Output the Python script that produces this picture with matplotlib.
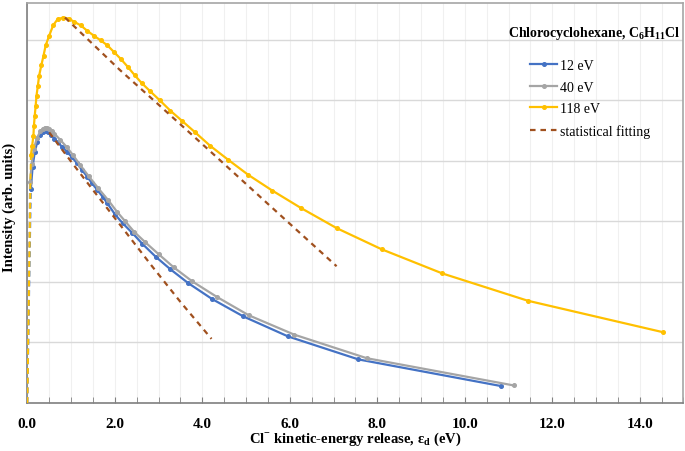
import matplotlib.pyplot as plt
from matplotlib.ticker import MultipleLocator, FuncFormatter
from matplotlib.lines import Line2D

plt.rcParams['font.family'] = ['Liberation Serif', 'DejaVu Serif']
plt.rcParams['mathtext.fontset'] = 'custom'
plt.rcParams['mathtext.rm'] = 'Liberation Serif'
plt.rcParams['mathtext.bf'] = 'Liberation Serif:bold'

# 12 eV
x12 = [0.0, 0.08, 0.12, 0.17, 0.23, 0.30, 0.36, 0.42, 0.48, 0.55, 0.62, 0.69, 0.80, 0.91,
       1.02, 1.14, 1.25, 1.37, 1.48, 1.60, 1.72, 1.83, 2.00, 2.18, 2.40, 2.63, 2.93, 3.27,
       3.68, 4.22, 4.94, 5.96, 7.57, 10.83]
y12 = [0.0, 3.53, 3.90, 4.15, 4.32, 4.43, 4.48, 4.50, 4.47, 4.43, 4.37, 4.31, 4.23, 4.15,
       4.06, 3.96, 3.85, 3.74, 3.63, 3.52, 3.41, 3.30, 3.12, 2.97, 2.81, 2.63, 2.42, 2.21,
       1.98, 1.72, 1.43, 1.10, 0.72, 0.28]

# 40 eV
x40 = [0.0, 0.06, 0.10, 0.15, 0.22, 0.30, 0.35, 0.40, 0.45, 0.50, 0.56, 0.62, 0.75, 0.90,
       1.05, 1.20, 1.40, 1.62, 1.85, 2.05, 2.24, 2.44, 2.69, 3.00, 3.35, 3.77, 4.34, 5.06,
       6.10, 7.76, 11.12]
y40 = [0.0, 3.65, 3.95, 4.20, 4.38, 4.49, 4.53, 4.55, 4.55, 4.53, 4.49, 4.45, 4.35, 4.23,
       4.09, 3.94, 3.75, 3.55, 3.35, 3.16, 3.00, 2.83, 2.66, 2.46, 2.24, 2.01, 1.75, 1.45,
       1.13, 0.74, 0.29]

# 118 eV
x118 = [0.0, 0.08, 0.11, 0.14, 0.15, 0.17, 0.19, 0.21, 0.24, 0.27, 0.32, 0.37, 0.42, 0.50,
        0.59, 0.69, 0.82, 0.95, 1.07, 1.22, 1.37, 1.52, 1.68, 1.83, 1.98, 2.13, 2.29, 2.45,
        2.61, 2.81, 3.03, 3.27, 3.54, 3.84, 4.18, 4.59, 5.05, 5.60, 6.26, 7.07, 8.10, 9.49,
        11.44, 14.53]
y118 = [0.0, 4.09, 4.25, 4.42, 4.58, 4.75, 4.91, 5.08, 5.24, 5.41, 5.58, 5.74, 5.91, 6.07,
        6.24, 6.34, 6.37, 6.35, 6.30, 6.24, 6.15, 6.07, 5.99, 5.91, 5.80, 5.69, 5.56, 5.42,
        5.29, 5.15, 5.00, 4.83, 4.66, 4.47, 4.25, 4.02, 3.77, 3.51, 3.22, 2.89, 2.54, 2.14,
        1.69, 1.17]

# statistical fits (decreasing part)
xfit12 = [0.50, 1.00, 1.50, 2.20, 2.84, 3.50, 4.21]
yfit12 = [4.47, 3.99, 3.52, 2.87, 2.27, 1.67, 1.06]
xfit118 = [0.86, 2.12, 3.00, 4.18, 5.50, 7.07]
yfit118 = [6.37, 5.50, 4.93, 4.16, 3.29, 2.26]

series = [('12 eV', x12, y12, '#4472C4'),
          ('40 eV', x40, y40, '#A5A5A5'),
          ('118 eV', x118, y118, '#FFC000')]
fit_color = '#A0501E'

fig = plt.figure(figsize=(6.85, 4.52), dpi=100)
ax = fig.add_axes([0.0399, 0.1062, 0.9579, 0.8850])

for label, xs, ys, c in series:
    # first segment from the origin looks dashed in the original
    ax.plot(xs[:2], ys[:2], color=c, lw=1.4, ls=(0, (3, 2)), zorder=3)
    ax.plot(xs[1:], ys[1:], color=c, lw=1.6, marker='o', ms=2.6, zorder=3)

ax.plot(xfit12, yfit12, color=fit_color, lw=1.6, ls=(0, (2.5, 2.2)), zorder=4)
ax.plot(xfit118, yfit118, color=fit_color, lw=1.6, ls=(0, (2.5, 2.2)), zorder=4)

ax.set_xlim(0, 15)
ax.set_ylim(0, 6.61)
ax.xaxis.set_major_locator(MultipleLocator(2))
ax.xaxis.set_minor_locator(MultipleLocator(0.5))
ax.xaxis.set_major_formatter(FuncFormatter(lambda v, p: '%.1f' % v))
ax.yaxis.set_major_locator(MultipleLocator(1))
ax.set_yticklabels([])
ax.tick_params(axis='y', length=0)
ax.tick_params(axis='x', which='both', direction='in', length=4, color='#808080',
               labelsize=11, pad=10)
for t in ax.get_xticklabels():
    t.set_fontweight('bold')

ax.grid(True, which='major', axis='y', color='#D9D9D9', lw=1.0)
ax.grid(True, which='both', axis='x', color='#F0F0F0', lw=0.8)
ax.set_axisbelow(True)

ax.spines['left'].set_color('#7F7F7F')
ax.spines['bottom'].set_color('#7F7F7F')
ax.spines['top'].set_color('#A6A6A6')
ax.spines['right'].set_color('#A6A6A6')
for s in ax.spines.values():
    s.set_linewidth(1.2)

fig.text(0.518, 0.027, 'Cl$^{\\mathbf{-}}$ kinetic-energy release, ε$_\\mathbf{d}$ (eV)',
         ha='center', va='center', fontsize=10.5, fontweight='bold')
fig.text(0.013, 0.54, 'Intensity (arb. units)', rotation=90, ha='center', va='center',
         fontsize=10.5, fontweight='bold')

fig.text(0.867, 0.925, 'Chlorocyclohexane, C$_\\mathbf{6}$H$_\\mathbf{11}$Cl',
         ha='center', va='center', fontsize=10, fontweight='bold')

handles = [Line2D([], [], color=c, lw=1.6, marker='o', ms=2.6) for _, _, _, c in series]
handles.append(Line2D([], [], color=fit_color, lw=1.6, ls=(0, (2.5, 2.2))))
labels = [s[0] for s in series] + ['statistical fitting']
fig.legend(handles, labels, loc='upper left', bbox_to_anchor=(0.755, 0.895),
           frameon=False, fontsize=10, handlelength=2.0, handletextpad=0.2,
           labelspacing=0.62)

fig.savefig('out.png', dpi=100)
